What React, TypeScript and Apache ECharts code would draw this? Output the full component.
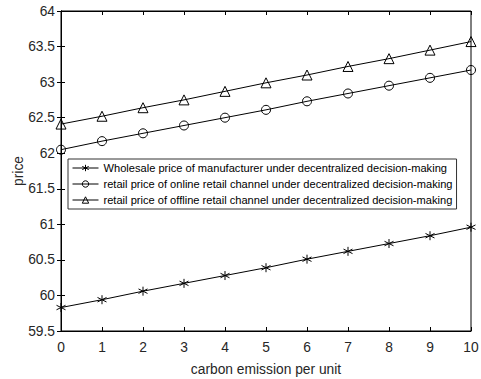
import React, { useEffect, useRef } from "react";
import * as echarts from "echarts";

const xValues = [0, 1, 2, 3, 4, 5, 6, 7, 8, 9, 10];
const wholesale = [59.83, 59.94, 60.06, 60.17, 60.28, 60.39, 60.51, 60.62, 60.73, 60.84, 60.96];
const online = [62.05, 62.17, 62.28, 62.39, 62.5, 62.61, 62.73, 62.84, 62.95, 63.06, 63.17];
const offline = [62.41, 62.52, 62.64, 62.75, 62.87, 62.99, 63.1, 63.22, 63.33, 63.45, 63.57];
const seriesNames = [
  "Wholesale price of manufacturer under decentralized decision-making",
  "retail price of online retail channel under decentralized decision-making",
  "retail price of offline retail channel under decentralized decision-making",
];

const star = "path://M0,-5L0,5M-4.33,-2.5L4.33,2.5M-4.33,2.5L4.33,-2.5";
const FONT = "Liberation Sans, Arial, sans-serif";
const TXT = "#262626";

export default function App() {
  const ref = useRef<HTMLDivElement>(null);
  useEffect(() => {
    if (!ref.current) return;
    const chart = echarts.init(ref.current, undefined, { renderer: "svg" });
    const mk = (name: string, data: number[], symbol: string, size: number) => ({
      name,
      type: "line",
      data: xValues.map((x, i) => [x, data[i]]),
      symbol,
      symbolSize: size,
      showSymbol: true,
      lineStyle: { color: "#000", width: 1 },
      itemStyle: { color: "transparent", borderColor: "#000", borderWidth: 1 },
      emphasis: { disabled: true },
    });
    chart.setOption({
      animation: false,
      backgroundColor: "#fff",
      grid: {
        left: 61,
        right: 10,
        top: 11,
        bottom: 48,
        show: true,
        borderColor: "#000",
        borderWidth: 1,
        containLabel: false,
        outerBoundsMode: "none",
      },
      legend: {
        orient: "vertical",
        left: 68,
        top: 159,
        padding: [2, 4, 2, 4],
        itemGap: 2,
        itemWidth: 26,
        itemHeight: 8,
        backgroundColor: "#fff",
        borderColor: "#333",
        borderWidth: 1,
        borderRadius: 0,
        itemStyle: { borderWidth: 1 },
        lineStyle: { width: 1, color: "#000" },
        textStyle: { fontFamily: FONT, fontSize: 11.1, color: "#000", lineHeight: 14 },
        data: seriesNames,
      },
      xAxis: [
        {
          type: "value",
          min: 0,
          max: 10,
          interval: 1,
          name: "carbon emission per unit",
          nameLocation: "middle",
          nameGap: 31,
          nameMoveOverlap: false,
          nameTextStyle: { fontFamily: FONT, fontSize: 13.8, color: TXT },
          axisLine: { show: true, lineStyle: { color: "#000" } },
          axisTick: { inside: true, length: 4, lineStyle: { color: "#000" } },
          axisLabel: { fontFamily: FONT, fontSize: 13.8, color: TXT, margin: 9 },
          splitLine: { show: false },
        },
        {
          type: "value",
          position: "top",
          min: 0,
          max: 10,
          interval: 1,
          axisLine: { show: true, lineStyle: { color: "#000" } },
          axisTick: { inside: true, length: 4, lineStyle: { color: "#000" } },
          axisLabel: { show: false },
          splitLine: { show: false },
        },
      ],
      yAxis: [
        {
          type: "value",
          min: 59.5,
          max: 64,
          interval: 0.5,
          name: "price",
          nameLocation: "middle",
          nameGap: 36,
          nameMoveOverlap: false,
          nameTextStyle: { fontFamily: FONT, fontSize: 13.8, color: TXT },
          axisLine: { show: true, lineStyle: { color: "#000" } },
          axisTick: { inside: true, length: 4, lineStyle: { color: "#000" } },
          axisLabel: { fontFamily: FONT, fontSize: 13.8, color: TXT, margin: 6 },
          splitLine: { show: false },
        },
        {
          type: "value",
          position: "right",
          min: 59.5,
          max: 64,
          interval: 0.5,
          axisLine: { show: true, lineStyle: { color: "#000" } },
          axisTick: { inside: true, length: 4, lineStyle: { color: "#000" } },
          axisLabel: { show: false },
          splitLine: { show: false },
        },
      ],
      series: [
        mk(seriesNames[0], wholesale, star, 9),
        mk(seriesNames[1], online, "circle", 9),
        mk(seriesNames[2], offline, "triangle", 10),
      ],
    });
    return () => chart.dispose();
  }, []);
  return <div ref={ref} style={{ width: 481, height: 379, position: "absolute", left: 0, top: 0 }} />;
}
